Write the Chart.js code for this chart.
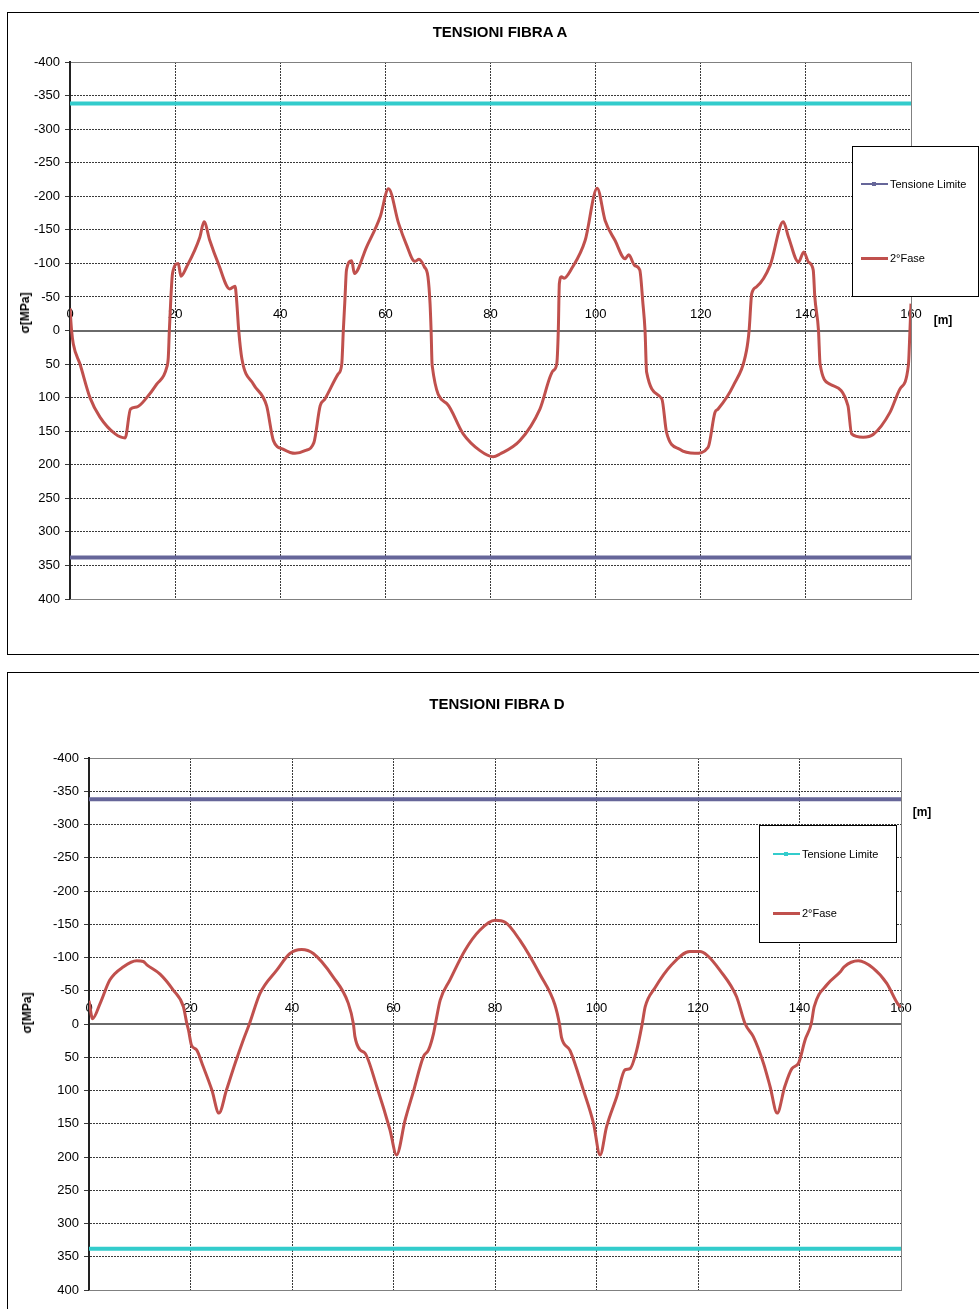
<!DOCTYPE html>
<html><head><meta charset="utf-8">
<script src="https://cdn.jsdelivr.net/npm/chart.js@4.4.1/dist/chart.umd.min.js"></script>
<style>
html,body{margin:0;padding:0;background:#fff;overflow:hidden;width:979px;height:1309px;}
body{position:relative;font-family:"Liberation Sans",Arial,sans-serif;color:#000;}
.frame{position:absolute;border:1px solid #000;box-sizing:border-box;background:#fff;}
.frame canvas{position:absolute;left:0;top:0;}
.title{position:absolute;font-weight:bold;font-size:15px;transform:translate(-50%,-50%);white-space:nowrap;}
.ytitle{position:absolute;font-weight:bold;font-size:12px;transform:translate(-50%,-50%) rotate(-90deg);white-space:nowrap;}
.xunit{position:absolute;font-weight:bold;font-size:12px;transform:translate(-50%,-50%);white-space:nowrap;}
.legend{position:absolute;border:1px solid #000;background:#fff;box-sizing:border-box;}
.legend .item{position:absolute;font-size:11px;white-space:nowrap;display:flex;align-items:center;transform:translateY(-50%);}
.legend .sample{position:relative;width:27px;margin-right:2px;}
.legend .mk{position:absolute;left:11px;width:4px;height:4px;}
</style>
</head>
<body>
<div class="frame" id="frameA" style="left:7px;top:12px;width:990px;height:643px;"><canvas id="chartA" width="984" height="640"></canvas></div>
<div class="frame" id="frameD" style="left:7px;top:672px;width:990px;height:700px;"><canvas id="chartD" width="984" height="640"></canvas></div>
<div class="title" style="left:500px;top:31px;">TENSIONI FIBRA A</div>
<div class="title" style="left:497px;top:703px;">TENSIONI FIBRA D</div>
<div class="ytitle" style="left:25px;top:313px;">σ[MPa]</div>
<div class="ytitle" style="left:27px;top:1013px;">σ[MPa]</div>
<div class="xunit" style="left:943px;top:320px;">[m]</div>
<div class="xunit" style="left:922px;top:812px;">[m]</div>
<div class="legend" id="legA" style="left:852px;top:146px;width:127px;height:151px;"></div>
<div class="legend" id="legD" style="left:759px;top:825px;width:138px;height:118px;"></div>
<script>
// ---- DATA ----
const xTickValues = [0, 20, 40, 60, 80, 100, 120, 140, 160];
const yTickValues = [-400, -350, -300, -250, -200, -150, -100, -50, 0, 50, 100, 150, 200, 250, 300, 350, 400];
const limitStations = [0, 160];
const limitTension = 338;     // MPa (plotted downward)
const limitCompression = -338; // MPa

const stationsA = [0, 0.3, 0.63, 1.9, 3.8, 5.7, 8.6, 10.5, 11.5, 12.7, 14.6, 16.5, 18.4, 18.7, 18.9, 19.2, 19.5, 20.6, 21.1, 22.2, 24.7, 25.5, 26.6, 28.2, 30.4, 31.4, 31.7, 32.1, 32.7, 34.9, 37.4, 38.7, 40.6, 42.8, 44.7, 46.4, 47.6, 48.5, 51.0, 51.7, 52.0, 52.3, 52.6, 53.6, 54.1, 56.4, 59.0, 60.6, 62.5, 64.0, 65.6, 66.4, 67.4, 68.1, 68.5, 68.7, 68.9, 71.7, 74.8, 78.0, 80.5, 81.8, 85.6, 89.4, 91.9, 92.6, 92.9, 93.1, 93.5, 94.0, 95.5, 98.0, 100.3, 101.8, 103.7, 105.6, 106.3, 107.4, 108.4, 109.0, 109.4, 109.7, 112.6, 113.5, 116.0, 118.9, 121.4, 122.7, 123.3, 126.2, 128.7, 129.2, 129.7, 130.6, 133.2, 135.7, 136.7, 138.6, 139.6, 140.5, 141.4, 141.7, 142.4, 142.7, 144.6, 148.0, 148.7, 150.9, 152.8, 156.0, 157.9, 159.5, 159.8, 160];
const fase2A = [-33, 0, 20, 50, 100, 129, 154, 160, 117, 114, 100, 80, 55, 40, 0, -50, -85, -100, -81, -95, -139, -162, -134, -100, -62, -66, -45, 0, 42, 80, 112, 164, 177, 183, 179, 167, 112, 102, 65, 50, 0, -45, -90, -104, -85, -124, -169, -211, -160, -128, -103, -106, -95, -80, -40, 0, 52, 109, 154, 179, 188, 184, 164, 117, 60, 50, 0, -70, -80, -78, -93, -134, -212, -164, -134, -107, -113, -97, -90, -40, 0, 62, 102, 152, 177, 183, 174, 122, 117, 82, 30, 0, -55, -65, -97, -162, -139, -102, -117, -102, -90, -50, 0, 50, 80, 112, 154, 159, 155, 122, 87, 52, 0, -40];

const stationsD = [0, 0.7, 2.2, 4.1, 6.8, 9.4, 10.7, 11.4, 14.0, 16.6, 18.6, 19.3, 19.6, 20.2, 21.2, 22.5, 24.2, 25.6, 27.1, 28.8, 30.4, 31.6, 33.7, 37.0, 39.6, 41.9, 44.2, 48.1, 51.1, 52.1, 52.4, 53.4, 54.4, 56.7, 59.3, 60.6, 62.3, 63.9, 65.9, 66.9, 67.9, 68.4, 69.2, 71.1, 74.1, 77.0, 80.0, 82.0, 84.9, 88.9, 91.8, 92.7, 93.1, 94.8, 97.4, 99.4, 100.7, 102.0, 104.0, 105.6, 106.6, 107.9, 109.0, 109.6, 111.5, 114.8, 118.4, 120.4, 121.7, 124.3, 127.6, 129.3, 130.9, 132.9, 134.2, 135.6, 137.1, 138.5, 139.8, 141.1, 142.3, 142.9, 145.4, 148.1, 148.8, 151.6, 154.5, 157.2, 159.3, 160];
const fase2D = [-35, -8, -31, -66, -86, -95, -94, -89, -75, -51, -26, 0, 9, 32, 39, 64, 99, 134, 99, 59, 24, 0, -46, -81, -106, -112, -106, -71, -31, 0, 19, 39, 44, 94, 159, 197, 144, 102, 49, 39, 14, -6, -36, -66, -111, -141, -156, -153, -126, -74, -29, 0, 20, 40, 99, 149, 197, 154, 109, 69, 67, 40, 0, -26, -54, -89, -109, -109, -104, -81, -41, 0, 19, 59, 94, 134, 94, 67, 59, 24, 0, -26, -59, -79, -86, -95, -84, -61, -31, -25];

// ---- STYLE ----
const RED = '#c0504d', CYAN = '#33cccc', PURPLE = '#666699';
Chart.defaults.font.family = "'Liberation Sans', Arial, sans-serif";
Chart.defaults.font.size = 13;
Chart.defaults.color = '#000';

const pts = (xs, ys) => xs.map((x, i) => ({x, y: ys[i]}));
const limitLine = (v) => limitStations.map(x => ({x, y: v}));

const areaPlugin = {
  id: 'area',
  beforeDatasetsDraw(chart) {
    const {ctx, chartArea: a, scales} = chart;
    ctx.save();
    ctx.strokeStyle = '#808080';
    ctx.lineWidth = 1;
    ctx.strokeRect(Math.round(a.left) + 0.5, Math.round(a.top) + 0.5, Math.round(a.right - a.left), Math.round(a.bottom - a.top));
    const y0 = Math.round(scales.y.getPixelForValue(0));
    ctx.strokeStyle = '#6a6a6a';
    ctx.lineWidth = 2;
    ctx.beginPath(); ctx.moveTo(a.left, y0); ctx.lineTo(a.right, y0); ctx.stroke();
    ctx.strokeStyle = '#222';
    ctx.lineWidth = 2;
    ctx.beginPath(); ctx.moveTo(Math.round(a.left), a.top); ctx.lineTo(Math.round(a.left), a.bottom); ctx.stroke();
    ctx.restore();
  }
};

function makeChart(id, stations, values, topColor, bottomColor, legendColor, pad) {
  const datasets = [
    {label: 'Tensione Limite', data: limitLine(limitTension), borderColor: bottomColor, backgroundColor: bottomColor, borderWidth: 4, pointRadius: 0, order: 2},
    {label: '', data: limitLine(limitCompression), borderColor: topColor, backgroundColor: topColor, borderWidth: 4, pointRadius: 0, order: 3},
    {label: '2°Fase', data: pts(stations, values), borderColor: RED, backgroundColor: RED, borderWidth: 3, pointRadius: 0, cubicInterpolationMode: 'monotone', order: 1}
  ];
  return new Chart(document.getElementById(id), {
    type: 'line',
    data: {datasets},
    options: {
      responsive: false, animation: false, events: [],
      layout: {padding: pad},
      plugins: {legend: {display: false}, title: {display: false}, tooltip: {enabled: false}},
      scales: {
        x: {
          type: 'linear', position: {y: -40}, min: 0, max: 160,
          afterBuildTicks: (s) => { s.ticks = xTickValues.map(v => ({value: v})); },
          ticks: {padding: 3, maxRotation: 0, autoSkip: false},
          grid: {color: '#3a3a3a', lineWidth: 1, drawTicks: false},
          border: {display: false, dash: [2, 1]}
        },
        y: {
          type: 'linear', reverse: true, min: -400, max: 400,
          afterBuildTicks: (s) => { s.ticks = yTickValues.map(v => ({value: v})); },
          afterFit: (s) => { s.width = 50; },
          ticks: {padding: 5, autoSkip: false},
          grid: {color: '#3a3a3a', lineWidth: 1, tickLength: 5},
          border: {display: true, color: '#222', width: 2, dash: [2, 1]}
        }
      }
    },
    plugins: [areaPlugin]
  });
}

function buildLegend(elId, chart, rows, sampleLeft) {
  const el = document.getElementById(elId);
  const items = [chart.data.datasets[0], chart.data.datasets[2]];
  items.forEach((ds, i) => {
    const it = document.createElement('div');
    it.className = 'item';
    it.style.left = sampleLeft + 'px';
    it.style.top = rows[i] + 'px';
    const s = document.createElement('div');
    s.className = 'sample';
    s.style.height = (i === 0 ? 2 : 3) + 'px';
    s.style.background = ds.borderColor;
    if (i === 0) { const m = document.createElement('div'); m.className = 'mk'; m.style.top = '-1px'; m.style.background = ds.borderColor; s.appendChild(m); }
    it.appendChild(s);
    it.appendChild(document.createTextNode(ds.label));
    el.appendChild(it);
  });
}

const chartA = makeChart('chartA', stationsA, fase2A, CYAN, PURPLE, PURPLE, {left: 12, right: 81, top: 49, bottom: 54});
const chartD = makeChart('chartD', stationsD, fase2D, PURPLE, CYAN, CYAN, {left: 31, right: 91, top: 85, bottom: 23});
buildLegend('legA', chartA, [37, 111], 8);
buildLegend('legD', chartD, [28, 87], 13);
</script>
</body></html>
